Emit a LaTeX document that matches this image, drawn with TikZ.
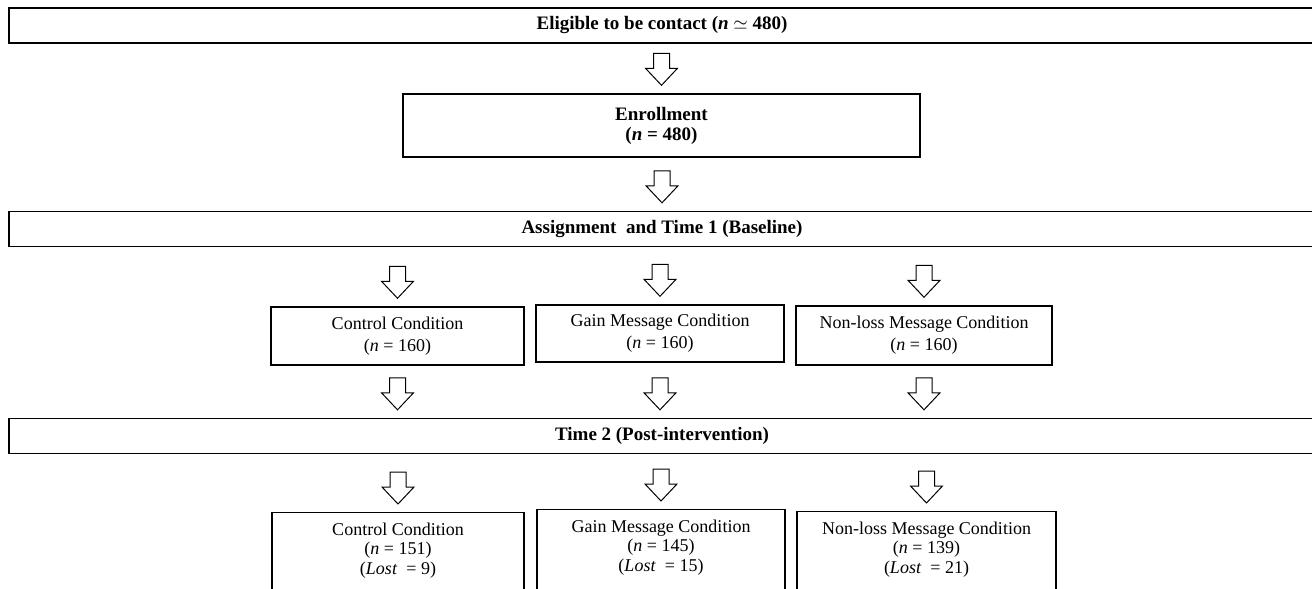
\documentclass[tikz,border=0pt]{standalone}
\usepackage{fontspec}
\setmainfont{Liberation Serif}
\usetikzlibrary{calc}
\tikzset{
  bar/.style={draw, line width=0.7pt, minimum width=653pt, minimum height=17.5pt, inner sep=0pt, font=\fontsize{9.5}{10}\selectfont\bfseries},
  cond/.style={draw, line width=0.7pt, align=center, inner sep=0pt, font=\fontsize{9}{11}\selectfont},
  lost/.style={cond, font=\fontsize{9}{9.8}\selectfont, anchor=north, inner ysep=5pt, text depth=40pt},
  bigarrow/.style={draw, fill=white, line width=0.5pt, to path={
    ($(\tikztotarget)+(-8,-40)$) -- ($(\tikztotarget)+(8,-40)$) -- ($(\tikztotarget)+(8,-25)$) -- ($(\tikztotarget)+(16,-25)$) -- ($(\tikztotarget)+(0,-8)$) -- ($(\tikztotarget)+(-16,-25)$) -- ($(\tikztotarget)+(-8,-25)$) -- cycle}}
}
\begin{document}
\begin{tikzpicture}[x=0.5pt, y=-0.5pt]
\useasboundingbox (0,0) rectangle (1312,589);
\node[bar] (elig) at (662,25.5) {Eligible to be contact (\textit{n} $\simeq$ 480)};
\node[cond, font=\fontsize{9.5}{10}\selectfont\bfseries, minimum width=258.5pt, minimum height=31.5pt] (enrol) at (661.5,125.5) {Enrollment\\(\textit{n} = 480)};
\node[bar] (assign) at (662,229) {Assignment\ \ and Time 1 (Baseline)};
\node[cond, minimum width=126.5pt, minimum height=29pt] (ctrlA) at (397.5,336) {Control Condition\\(\textit{n} = 160)};
\node[cond, minimum width=124pt, minimum height=28.5pt] (gainA) at (660,333.5) {Gain Message Condition\\(\textit{n} = 160)};
\node[cond, minimum width=128pt, minimum height=29.5pt] (nlA) at (924,335.5) {Non-loss Message Condition\\(\textit{n} = 160)};
\node[bar] (time2) at (662,436) {Time 2 (Post-intervention)};
\node[lost, minimum width=126pt] (ctrlB) at (398,512) {Control Condition\\(\textit{n} = 151)\\(\textit{Lost}\ \ = 9)};
\node[lost, minimum width=124pt] (gainB) at (661,509) {Gain Message Condition\\(\textit{n} = 145)\\(\textit{Lost}\ \ = 15)};
\node[lost, minimum width=129.5pt] (nlB) at (926.5,511) {Non-loss Message Condition\\(\textit{n} = 139)\\(\textit{Lost}\ \ = 21)};
% arrows
\draw[bigarrow] (elig.south) to (enrol.north);
\draw[bigarrow] (enrol.south) to (assign.north);
\draw[bigarrow] (assign.south) to (ctrlA.north);
\draw[bigarrow] (assign.south) to (gainA.north);
\draw[bigarrow] (assign.south) to (nlA.north);
\draw[bigarrow] (ctrlA.south) to (time2.north -| ctrlA.south);
\draw[bigarrow] (gainA.south) to (time2.north -| gainA.south);
\draw[bigarrow] (nlA.south) to (time2.north -| nlA.south);
\draw[bigarrow] (time2.south) to (ctrlB.north);
\draw[bigarrow] (time2.south) to (gainB.north);
\draw[bigarrow] (time2.south) to (nlB.north);
\end{tikzpicture}
\end{document}
